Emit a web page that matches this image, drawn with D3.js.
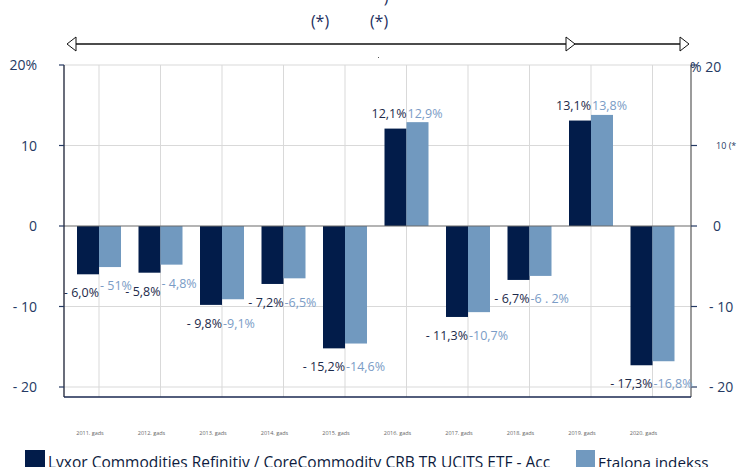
<!DOCTYPE html>
<html>
<head>
<meta charset="utf-8">
<script src="https://cdn.jsdelivr.net/npm/d3@7"></script>
<style>
  body { margin: 0; background: #fff; }
  text { font-family: "Open Sans", "Noto Sans", sans-serif; }
</style>
</head>
<body>
<script>
// data
var years = ["2011. gads", "2012. gads", "2013. gads", "2014. gads", "2015. gads",
             "2016. gads", "2017. gads", "2018. gads", "2019. gads", "2020. gads"];
var fund = [-6.0, -5.8, -9.8, -7.2, -15.2, 12.1, -11.3, -6.7, 13.1, -17.3];
var index = [-5.1, -4.8, -9.1, -6.5, -14.6, 12.9, -10.7, -6.2, 13.8, -16.8];
var fundLabels = ["- 6,0%", "- 5,8%", "- 9,8%", "- 7,2%", "- 15,2%", "12,1%", "- 11,3%", "- 6,7%", "13,1%", "- 17,3%"];
var indexLabels = ["- 51%", "- 4,8%", "-9,1%", "-6,5%", "-14,6%", "12,9%", "-10,7%", "-6 . 2%", "13,8%", "-16,8%"];
var leftTicks = [20, 10, 0, -10, -20];
var leftTickText = ["20%", "10", "0", "- 10", "- 20"];
var rightTickText = ["% 20", "10 (*", "0", "- 10", "- 20"];
var seriesNames = ["Lyxor Commodities Refinitiv / CoreCommodity CRB TR UCITS ETF - Acc", "Etalona indekss"];

var w = 738, h = 467;
var dark = "#021c4a", light = "#7199bf";

var svg = d3.select("body").append("svg")
    .attr("width", w)
    .attr("height", h);

var x = d3.scaleBand().domain(years).range([68.25, 683.25]);
var y = d3.scaleLinear().domain([-20, 20]).range([387, 65]);
var left = 64, right = 691, bottom = 397;
var bw = 22;

// grid
svg.selectAll(".hgrid").data(leftTicks.filter(function(d) { return d !== 0; }))
  .enter().append("line")
  .attr("x1", left).attr("x2", right)
  .attr("y1", function(d) { return y(d); }).attr("y2", function(d) { return y(d); })
  .attr("stroke", "#d9d9d9").attr("stroke-width", 1);

svg.selectAll(".vgrid").data(years)
  .enter().append("line")
  .attr("x1", function(d) { return x(d) + x.bandwidth() / 2; })
  .attr("x2", function(d) { return x(d) + x.bandwidth() / 2; })
  .attr("y1", y(20)).attr("y2", bottom)
  .attr("stroke", "#d9d9d9").attr("stroke-width", 1);

// bars
function cx(i) { return x(years[i]) + x.bandwidth() / 2; }

svg.selectAll(".fund").data(fund)
  .enter().append("rect")
  .attr("x", function(d, i) { return cx(i) - bw; })
  .attr("y", function(d) { return y(Math.max(0, d)); })
  .attr("width", bw)
  .attr("height", function(d) { return Math.abs(y(d) - y(0)); })
  .attr("fill", dark);

svg.selectAll(".index").data(index)
  .enter().append("rect")
  .attr("x", function(d, i) { return cx(i); })
  .attr("y", function(d) { return y(Math.max(0, d)); })
  .attr("width", bw)
  .attr("height", function(d) { return Math.abs(y(d) - y(0)); })
  .attr("fill", light);

// zero line and axes
svg.append("line").attr("x1", left).attr("x2", right).attr("y1", y(0)).attr("y2", y(0))
  .attr("stroke", "#6b6b6b").attr("stroke-width", 1.2);
svg.append("line").attr("x1", left).attr("x2", left).attr("y1", y(20)).attr("y2", bottom)
  .attr("stroke", "#1a1f33").attr("stroke-width", 1.3);
svg.append("line").attr("x1", right).attr("x2", right).attr("y1", y(20)).attr("y2", bottom)
  .attr("stroke", "#7a7a7a").attr("stroke-width", 1.5);
svg.append("line").attr("x1", left).attr("x2", right).attr("y1", bottom).attr("y2", bottom)
  .attr("stroke", "#1a2850").attr("stroke-width", 1.3);

// ticks
svg.selectAll(".lt").data(leftTicks).enter().append("line")
  .attr("x1", left - 5).attr("x2", left)
  .attr("y1", function(d) { return y(d); }).attr("y2", function(d) { return y(d); })
  .attr("stroke", "#253a63").attr("stroke-width", 1.2);
svg.selectAll(".rt").data(leftTicks).enter().append("line")
  .attr("x1", right).attr("x2", right + 6)
  .attr("y1", function(d) { return y(d); }).attr("y2", function(d) { return y(d); })
  .attr("stroke", "#253a63").attr("stroke-width", 1.2);

svg.selectAll(".ll").data(leftTicks).enter().append("text")
  .attr("x", 37).attr("y", function(d) { return y(d) + 5; })
  .attr("text-anchor", "end")
  .attr("font-size", 14).attr("fill", "#253a63")
  .text(function(d, i) { return leftTickText[i]; });

svg.selectAll(".rl").data(leftTicks).enter().append("text")
  .attr("x", function(d, i) { return i === 0 ? 690 : (i === 1 ? 716 : (d === 0 ? 713 : 709)); })
  .attr("y", function(d, i) { return y(d) + (i === 0 ? 7 : (i === 1 ? 3 : 5)); })
  .attr("font-size", function(d, i) { return i === 1 ? 9 : 14; })
  .attr("fill", "#253a63")
  .text(function(d, i) { return rightTickText[i]; });

// category labels
svg.selectAll(".cat").data(years).enter().append("text")
  .attr("x", function(d) { return x(d) + x.bandwidth() / 2 - 9; })
  .attr("y", 435)
  .attr("text-anchor", "middle")
  .attr("font-size", 5.5).attr("fill", "#666")
  .text(function(d) { return d; });

// value labels
function fundY(i) {
  return fund[i] >= 0 ? y(fund[i]) - 11 : y(fund[i]) + 23;
}
svg.selectAll(".fl").data(fund).enter().append("text")
  .attr("x", function(d, i) { return cx(i); })
  .attr("y", function(d, i) { return fundY(i); })
  .attr("text-anchor", "end")
  .attr("font-size", 12.5).attr("fill", "#1c2a4a")
  .text(function(d, i) { return fundLabels[i]; });

svg.selectAll(".il").data(index).enter().append("text")
  .attr("x", function(d, i) { return cx(i) + 1; })
  .attr("y", function(d, i) {
    if (d >= 0 || Math.abs(d - fund[i]) < 0.8) return fundY(i);
    return y(d) + 23;
  })
  .attr("font-size", 12.5).attr("fill", "#7a9cc6")
  .text(function(d, i) { return indexLabels[i]; });

// top arrow line
svg.append("line").attr("x1", 70).attr("x2", 680).attr("y1", 44).attr("y2", 44)
  .attr("stroke", "#111").attr("stroke-width", 1.6);
function arrow(px, dir) {
  svg.append("path")
    .attr("d", "M" + px + ",44 L" + (px - dir * 9) + ",37 L" + (px - dir * 9) + ",51 Z")
    .attr("fill", "#fff").attr("stroke", "#111").attr("stroke-width", 1);
}
arrow(67, -1);
arrow(575, 1);
arrow(689, 1);

svg.append("text").attr("x", 320).attr("y", 27).attr("text-anchor", "middle")
  .attr("font-size", 16).attr("fill", "#1e3060").text("(*)");
svg.append("text").attr("x", 379).attr("y", 27).attr("text-anchor", "middle")
  .attr("font-size", 16).attr("fill", "#1e3060").text("(*)");
svg.append("text").attr("x", 386).attr("y", 3).attr("text-anchor", "middle")
  .attr("font-size", 16).attr("fill", "#1e3060").text(")");
svg.append("rect").attr("x", 378).attr("y", 57).attr("width", 1).attr("height", 1).attr("fill", "#555");

// legend
svg.append("rect").attr("x", 25).attr("y", 450).attr("width", 20).attr("height", 20).attr("fill", dark);
svg.append("text").attr("x", 48).attr("y", 468).attr("font-size", 15.5).attr("fill", "#0d1b3e")
  .text(seriesNames[0]);
svg.append("rect").attr("x", 576).attr("y", 450).attr("width", 19).attr("height", 20).attr("fill", light);
svg.append("text").attr("x", 598).attr("y", 468).attr("font-size", 15.2).attr("fill", "#0d1b3e")
  .text(seriesNames[1]);
</script>
</body>
</html>
